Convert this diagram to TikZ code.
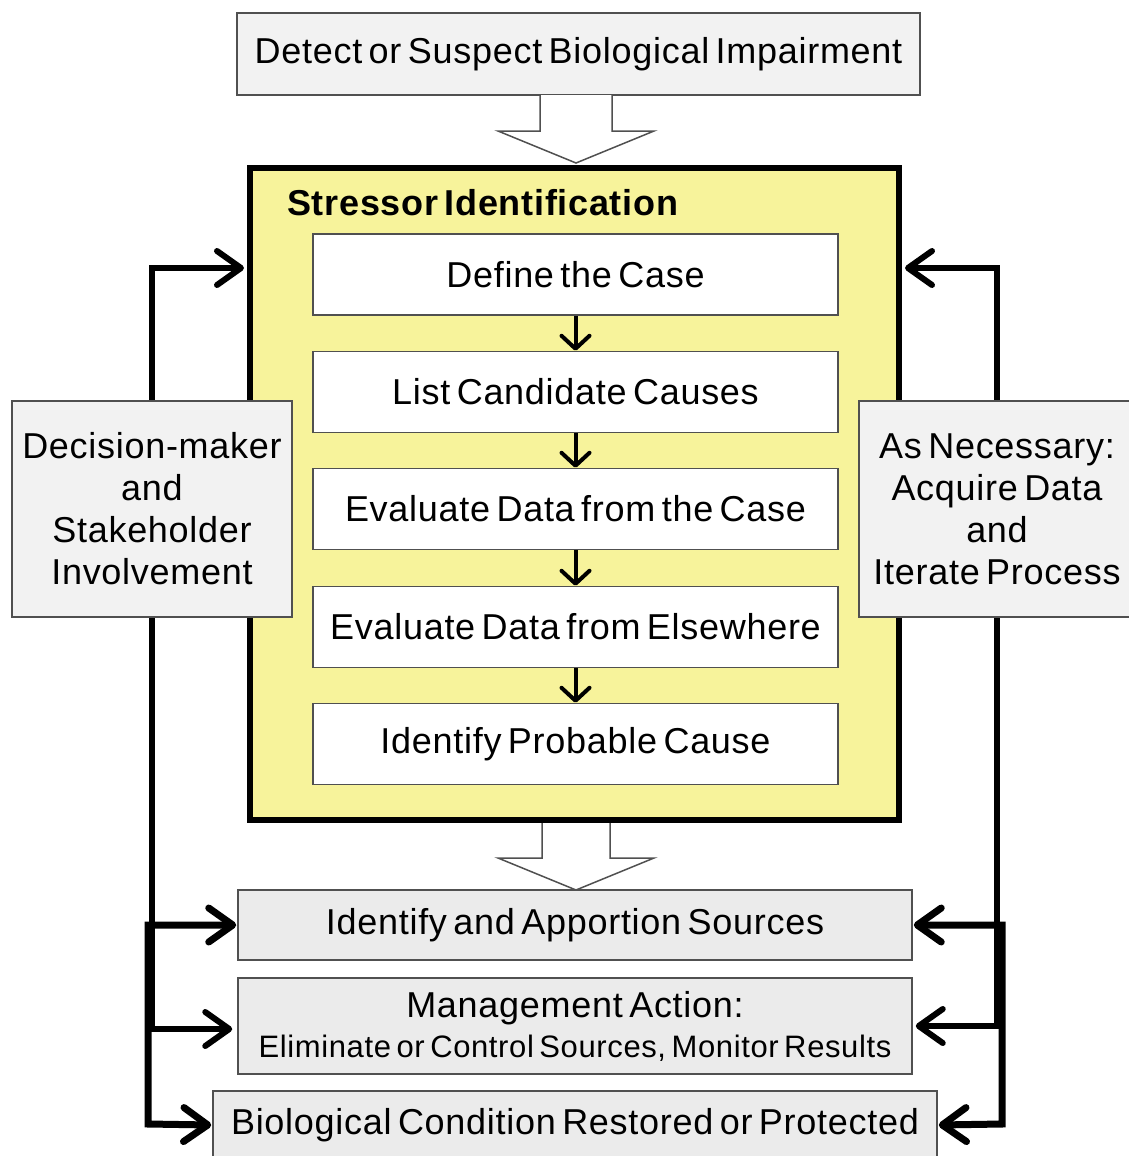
\documentclass[tikz,border=0pt]{standalone}
\usepackage{fontspec}
\setmainfont{Liberation Sans}[WordSpace=0.6,LetterSpace=2]
\usetikzlibrary{arrows.meta,calc}
\definecolor{ylw}{RGB}{247,243,155}
\definecolor{lgray}{RGB}{242,242,242}
\definecolor{mgray}{RGB}{235,235,235}
\definecolor{bord}{RGB}{80,80,80}
\begin{document}
\begin{tikzpicture}[x=1pt,y=-1pt,
  box/.style={draw=bord,line width=1.5pt,fill=lgray,align=center,inner sep=0pt,
    font=\fontsize{36}{42}\selectfont},
  stepbox/.style={box,fill=white,minimum width=525pt,minimum height=81pt},
  outbox/.style={box,fill=mgray},
  smallarr/.style={-{Straight Barb[length=13pt,width=28pt,round]},line width=4pt},
  bigarr/.style={-{Straight Barb[length=24pt,width=34pt,round]},line width=6pt},
  botharr/.style={{Straight Barb[length=24pt,width=34pt,round]}-{Straight Barb[length=24pt,width=34pt,round]},line width=7pt},
  hollow/.style={draw=bord,fill=white,line width=1.5pt}]
\useasboundingbox (0,0) rectangle (1128,1156);

% top box
\node[box,minimum width=683pt,minimum height=82pt] (top) at (578.5,54) {Detect or Suspect Biological Impairment};

% hollow arrows
\begin{scope}[shift={(576,95)}]
\draw[hollow] (-36,0) -- (-36,36) -- (-78,36) -- (0,68) -- (78,36) -- (36,36) -- (36,0);
\end{scope}
\begin{scope}[shift={(576,823)}]
\draw[hollow] (-34,0) -- (-34,35) -- (-78,35) -- (0,67) -- (78,35) -- (34,35) -- (34,0);
\end{scope}

% stressor identification
\node[draw=black,line width=6pt,fill=ylw,minimum width=649pt,minimum height=652pt,inner sep=0pt] (si) at (574.5,494) {};
\node[anchor=west,font=\bfseries\fontsize{36}{42}\selectfont,inner sep=0pt] (ttl) at (287,203) {Stressor Identification};

\node[stepbox] (s1) at (575.5,274.5) {Define the Case};
\node[stepbox] (s2) at (575.5,392) {List Candidate Causes};
\node[stepbox] (s3) at (575.5,509) {Evaluate Data from the Case};
\node[stepbox] (s4) at (575.5,627) {Evaluate Data from Elsewhere};
\node[stepbox] (s5) at (575.5,744) {Identify Probable Cause};
\draw[smallarr] (s1.south) -- (s2.north);
\draw[smallarr] (s2.south) -- (s3.north);
\draw[smallarr] (s3.south) -- (s4.north);
\draw[smallarr] (s4.south) -- (s5.north);

% side loops
\coordinate (lt) at (244,268);
\coordinate (rt) at (905,268);
\coordinate (lb) at (148,1124);
\coordinate (rb) at (1002,1124);

% bottom boxes
\node[outbox,minimum width=674pt,minimum height=70pt] (ias) at (575,925) {Identify and Apportion Sources};
\node[outbox,minimum width=674pt,minimum height=96pt] (ma) at (575,1026)
  {Management Action:\\[-2pt]{\fontsize{31}{36}\selectfont Eliminate or Control Sources, Monitor Results}};
\node[outbox,minimum width=724pt,minimum height=68pt] (bcr) at (575,1125) {Biological Condition Restored or Protected};

% side boxes: placeholders for routing
\node[box,minimum width=280pt,minimum height=216pt,draw=none,fill=none] (dm) at (152,509) {};
\node[box,minimum width=276pt,minimum height=216pt,draw=none,fill=none] (an) at (997,509) {};

\draw[bigarr] (dm.north) |- (lt);
\draw[bigarr] (an.north) |- (rt);
\draw[bigarr] (dm.south) |- ($(ma.west)+(-5,3)$);
\draw[bigarr] (an.south) |- ($(ma.east)+(3,0)$);
\draw[botharr] ($(ias.west)+(-1,0)$) -| (lb) -- ($(bcr.west)+(-1,0)$);
\draw[botharr] ($(ias.east)+(1,0)$) -| (rb) -- ($(bcr.east)+(1,0)$);

\node[box,minimum width=280pt,minimum height=216pt] (dmb) at (dm) {Decision-maker\\and\\Stakeholder\\Involvement};
\node[box,minimum width=276pt,minimum height=216pt] (anb) at (an) {As Necessary:\\Acquire Data\\and\\Iterate Process};
\end{tikzpicture}
\end{document}
